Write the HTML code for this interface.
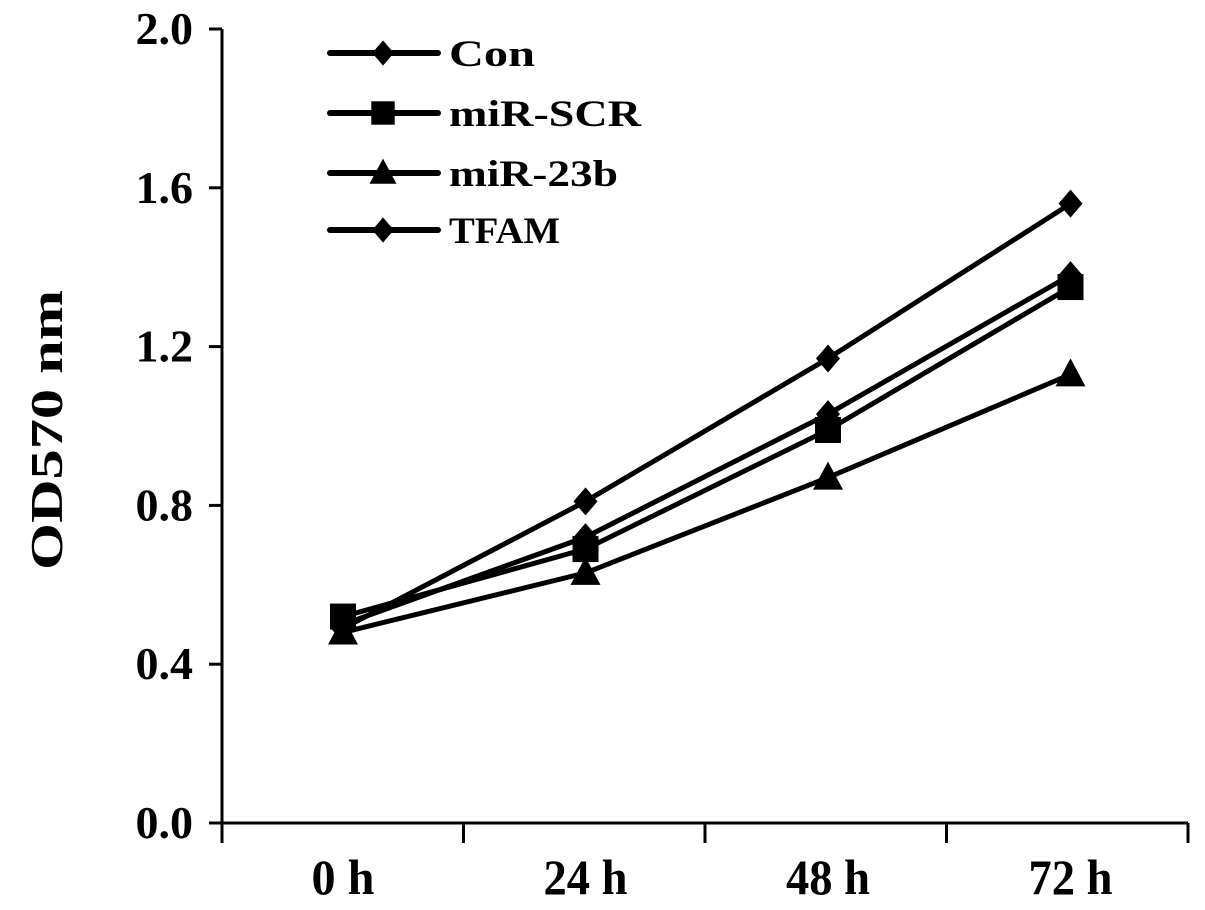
<!DOCTYPE html>
<html><head><meta charset="utf-8"><style>
body{margin:0;background:#fff}
text{font-family:"Liberation Serif",serif;font-weight:bold;fill:#000}
</style></head><body>
<svg width="1205" height="905" viewBox="0 0 1205 905">
<g id="axes"></g><g id="series"></g><g id="legend"></g>
</svg>
<script>
const categories=["0 h","24 h","48 h","72 h"];
const yTicks=[0.0,0.4,0.8,1.2,1.6,2.0];
const seriesNames=["Con","miR-SCR","miR-23b","TFAM"];
const seriesMarkers=["diamond","square","triangle","diamond"];
const conVals=[0.50,0.72,1.03,1.38];
const scrVals=[0.52,0.69,0.99,1.35];
const m23Vals=[0.48,0.63,0.87,1.13];
const tfamVals=[0.49,0.81,1.17,1.56];
const allVals=[conVals,scrVals,m23Vals,tfamVals];
const NS="http://www.w3.org/2000/svg";
const X0=222,X1=1188,Y0=823,Y1=29;
const xs=i=>343+i*242.5;
const ys=v=>Y0-(v/2.0)*(Y0-Y1);
function mk(tag,attrs,parent,txt){const e=document.createElementNS(NS,tag);for(const k in attrs)e.setAttribute(k,attrs[k]);if(txt!==undefined)e.textContent=txt;parent.appendChild(e);return e;}
const axes=document.getElementById('axes');
let e=mk('line',{x1:X0,y1:Y1,x2:X0,y2:Y0,stroke:'#000','stroke-width':3},axes);


e=mk('line',{x1:X0,y1:Y0,x2:X1,y2:Y0,stroke:'#000','stroke-width':3},axes);


yTicks.forEach(v=>{
 mk('line',{x1:X0-13,y1:ys(v),x2:X0,y2:ys(v),stroke:'#000','stroke-width':3},axes);
 e=mk('text',{x:193,y:ys(v)+15,'text-anchor':'end','font-size':46},axes,v.toFixed(1));
 
 
});
for(let i=0;i<=categories.length;i++){const x=X0+i*(X1-X0)/4;mk('line',{x1:x,y1:Y0,x2:x,y2:Y0+20,stroke:'#000','stroke-width':3},axes);}
categories.forEach((c,i)=>{
 e=mk('text',{x:xs(i),y:894,'text-anchor':'middle','font-size':50,textLength:c.length*21,lengthAdjust:'spacingAndGlyphs'},axes,c);
 
 
});
e=mk('text',{x:0,y:0,'text-anchor':'middle','font-size':46,textLength:280,lengthAdjust:'spacingAndGlyphs',transform:'translate(62,430) rotate(-90)'},axes,'OD570 nm');


function marker(type,x,y,p,s){
 if(type==='diamond')return mk('polygon',{points:`${x},${y-14*s} ${x+12*s},${y} ${x},${y+14*s} ${x-12*s},${y}`},p);
 if(type==='square')return mk('rect',{x:x-13*s,y:y-13*s,width:26*s,height:26*s},p);
 return mk('polygon',{points:`${x},${y-16*s} ${x+15*s},${y+12*s} ${x-15*s},${y+12*s}`},p);
}
const ser=document.getElementById('series');
allVals.forEach((vals,s)=>{
 const g=mk('g',{},ser);
 
 
 mk('polyline',{points:vals.map((v,i)=>xs(i)+','+ys(v)).join(' '),fill:'none',stroke:'#000','stroke-width':5},g);
 vals.forEach((v,i)=>{const m=marker(seriesMarkers[s],xs(i),ys(v),g,1);
  
  });
});
const leg=document.getElementById('legend');
const legY=[53,113,173,230];
const legW=[86,192,169,111];
seriesNames.forEach((n,s)=>{
 const g=mk('g',{},leg);
 
 
 mk('line',{x1:330,y1:legY[s],x2:438,y2:legY[s],stroke:'#000','stroke-width':6,'stroke-linecap':'round'},g);
 marker(seriesMarkers[s],383,legY[s],g,0.9);
 mk('text',{x:449,y:legY[s]+13,'font-size':37,textLength:legW[s],lengthAdjust:'spacingAndGlyphs'},g,n);
});
</script>
</body></html>
